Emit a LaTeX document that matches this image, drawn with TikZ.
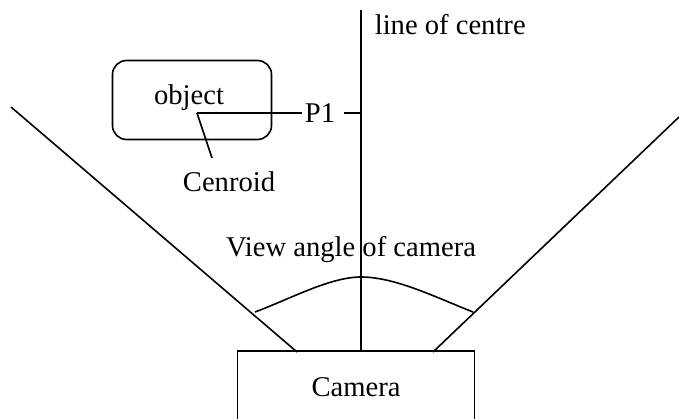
\documentclass[tikz,border=0pt]{standalone}
\usepackage{fontspec}
\setmainfont{Liberation Serif}
\usetikzlibrary{positioning,calc}

\tikzset{
    box/.style={draw=black, thick, minimum width=118.5pt, minimum height=36pt},
    objbox/.style={draw=black, thick, rounded corners=7pt, minimum width=79.5pt, minimum height=39.5pt},
    lbl/.style={inner sep=1pt},
}

\begin{document}
\begin{tikzpicture}[x=0.5pt,y=0.5pt, font=\fontsize{14.3}{17}\selectfont, thick]
        \useasboundingbox (0,0) rectangle (679,418);

        % camera and the line of centre
        \node[box] (camera) at (356,31) {Camera};
        \coordinate (top) at (361,408);
        \draw (top) -- (top |- camera.north);
        \node[lbl, anchor=west] (centre) at (372,393) {line of centre};

        % field of view
        \coordinate (lview) at (11,311);
        \coordinate (rview) at (679,301);
        \draw (lview) -- (297,66);
        \draw (rview) -- (433,66);
        \draw (255,106) .. controls (290,119) and (330,141) .. (361,141)
                        .. controls (395,141) and (435,121) .. (473,106);
        \node[lbl] (angle) at (351,168) {View angle of camera};

        % object with its centroid
        \node[objbox] (object) at (192,318) {};
        \node[lbl] (objname) at (189,320) {object};
        \coordinate (cen) at (197,305);
        \node[lbl] (P1) at (320,305) {P1};
        \draw (cen) -- (P1.west);
        \draw (P1.east) ++(6,0) -- (top |- P1);
        \node[lbl] (cenlbl) at (229,236) {Cenroid};
        \draw (cen) -- (212,260);
    \end{tikzpicture}
\end{document}
